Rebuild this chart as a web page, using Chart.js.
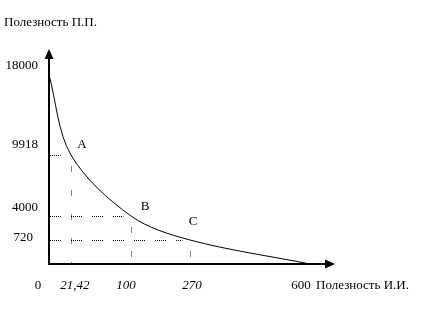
<!DOCTYPE html>
<html>
<head>
<meta charset="utf-8">
<script src="https://cdn.jsdelivr.net/npm/chart.js@4/dist/chart.umd.min.js"></script>
<style>
  body { margin: 0; background: #fff; }
  #wrap { width: 426px; height: 331px; }
</style>
</head>
<body>
<div id="wrap"><canvas id="utilityChart" width="426" height="331"></canvas></div>
<script>
// values
const xValues = [0, 21.42, 100, 270, 600];
const yValues = [18000, 9918, 4000, 720, 0];
const xTickLabels = ["0", "21,42", "100", "270", "600"];
const yTickValues = [18000, 9918, 4000, 720];
const yTickLabels = ["18000", "9918", "4000", "720"];
const pointNames = ["A", "B", "C"];

const yTitle = "Полезность П.П.";
const xTitle = "Полезность И.И.";

const FONT = "13px 'Liberation Serif', 'Times New Roman', serif";
const FONT_IT = "italic 13px 'Liberation Serif', 'Times New Roman', serif";

// the drawing is not to scale: a piecewise linear axis, value -> share of axis length
class SchematicScale extends Chart.LinearScale {
    toDecimal(v) {
        const st = this.options.stops;
        if (v <= st[0][0]) return st[0][1];
        for (let i = 1; i < st.length; i++) {
            if (v <= st[i][0]) {
                const a = st[i - 1], b = st[i];
                return a[1] + (v - a[0]) / (b[0] - a[0]) * (b[1] - a[1]);
            }
        }
        return st[st.length - 1][1];
    }
    getPixelForValue(v) {
        return this.getPixelForDecimal(this.toDecimal(v));
    }
    getValueForPixel(p) {
        const d = this.getDecimalForPixel(p);
        const st = this.options.stops;
        for (let i = 1; i < st.length; i++) {
            if (d <= st[i][1]) {
                const a = st[i - 1], b = st[i];
                return a[0] + (d - a[1]) / (b[1] - a[1]) * (b[0] - a[0]);
            }
        }
        return st[st.length - 1][0];
    }
}
SchematicScale.id = "schematic";
SchematicScale.defaults = Chart.LinearScale.defaults;
Chart.register(SchematicScale);

// dotted dash: n px of 1-on-1-off dots, then a gap
function dots(len, gap) {
    const arr = [];
    for (let i = 0; i < len / 2; i++) arr.push(1, 1);
    arr[arr.length - 1] = gap;
    return arr;
}

const drawingPlugin = {
    id: "drawing",
    afterDraw(chart) {
        const ctx = chart.ctx;
        const xs = chart.scales.x, ys = chart.scales.y;
        const area = chart.chartArea;
        const ox = xs.getPixelForValue(0);
        const oy = ys.getPixelForValue(0);

        ctx.save();
        ctx.strokeStyle = "#000";
        ctx.fillStyle = "#000";

        // dotted guides from A, B, C to the axes
        ctx.lineWidth = 1;
        for (let i = 1; i <= 3; i++) {
            const px = Math.round(xs.getPixelForValue(xValues[i])) + 0.5;
            const py = Math.round(ys.getPixelForValue(yValues[i])) + 0.5;
            ctx.setLineDash(dots(12, 10));
            ctx.beginPath();
            ctx.moveTo(ox + 1, py);
            ctx.lineTo(px - 8, py);
            ctx.stroke();
            ctx.setLineDash(dots(6, 19));
            ctx.beginPath();
            ctx.moveTo(px, py + 11);
            ctx.lineTo(px, oy);
            ctx.stroke();
        }
        ctx.setLineDash([]);

        // axes with arrows
        ctx.lineWidth = 2;
        ctx.beginPath();
        ctx.moveTo(ox, oy);
        ctx.lineTo(ox, area.top + 9);
        ctx.moveTo(ox - 1, oy);
        ctx.lineTo(area.right - 10, oy);
        ctx.stroke();
        ctx.beginPath();
        ctx.moveTo(ox, area.top);
        ctx.lineTo(ox - 4.5, area.top + 10);
        ctx.lineTo(ox + 4.5, area.top + 10);
        ctx.closePath();
        ctx.fill();
        ctx.beginPath();
        ctx.moveTo(area.right, oy);
        ctx.lineTo(area.right - 10, oy - 4.5);
        ctx.lineTo(area.right - 10, oy + 4.5);
        ctx.closePath();
        ctx.fill();

        // texts
        ctx.font = FONT;
        ctx.textBaseline = "middle";
        ctx.textAlign = "left";
        ctx.fillText(yTitle, 4, 23);
        ctx.fillText(xTitle, 316, 286);

        ctx.textAlign = "right";
        const yNudge = [-9, -10, -8, -2];
        const yRight = [38, 38, 38, 33];
        yTickValues.forEach((v, i) => {
            ctx.fillText(yTickLabels[i], yRight[i], ys.getPixelForValue(v) + yNudge[i]);
        });

        ctx.textAlign = "center";
        const xNudge = [-11, 4, -5, 2, -9];
        xValues.forEach((v, i) => {
            ctx.font = (i >= 1 && i <= 3) ? FONT_IT : FONT;
            ctx.fillText(xTickLabels[i], xs.getPixelForValue(v) + xNudge[i], 286);
        });

        ctx.font = FONT;
        const nameNudge = [[11, -10], [14, -9], [3, -18]];
        pointNames.forEach((n, i) => {
            const px = xs.getPixelForValue(xValues[i + 1]);
            const py = ys.getPixelForValue(yValues[i + 1]);
            ctx.fillText(n, px + nameNudge[i][0], py + nameNudge[i][1]);
        });
        ctx.restore();
    }
};

const curveData = xValues.map((x, i) => ({ x: x, y: yValues[i] }));

const configBlock = {
    type: "line",
    data: {
        datasets: [{
            data: curveData,
            borderColor: "#000",
            borderWidth: 1,
            pointRadius: 0,
            tension: 0.33,
            fill: false,
            clip: false
        }]
    },
    options: {
        responsive: false,
        animation: false,
        devicePixelRatio: 1,
        layout: {
            padding: { left: 48, right: 91, top: 49, bottom: 67 }
        },
        scales: {
            x: {
                type: "schematic",
                display: false,
                min: 0,
                max: 660,
                stops: [[0, 0.0035], [21.42, 0.0801], [100, 0.2892], [270, 0.4948], [600, 0.9129], [660, 1]]
            },
            y: {
                type: "schematic",
                display: false,
                min: 0,
                max: 20000,
                stops: [[0, 0], [720, 0.1116], [4000, 0.2233], [9918, 0.507], [18000, 0.88], [20000, 1]]
            }
        },
        plugins: {
            legend: { display: false },
            tooltip: { enabled: false },
            title: { display: false }
        }
    },
    plugins: [drawingPlugin]
};

const utilityChart = new Chart(document.getElementById("utilityChart").getContext("2d"), configBlock);
</script>
</body>
</html>
